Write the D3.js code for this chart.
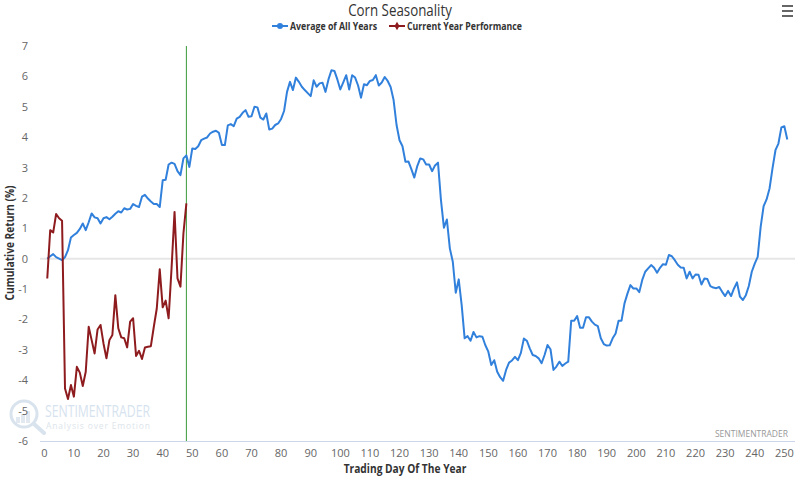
<!DOCTYPE html>
<html>
<head>
<meta charset="utf-8">
<script src="https://cdn.jsdelivr.net/npm/d3@7"></script>
<style>
  body { margin: 0; background: #fff; }
  svg { font-family: "Open Sans", "Noto Sans", sans-serif; }
</style>
</head>
<body>
<svg id="chart" width="799" height="479"></svg>
<script>
// cumulative return (%) by trading day, day 1 onwards
var avgAllYears = [
  0.0, 0.08, 0.15, 0.05, 0.0, -0.05, 0.05, 0.28, 0.7, 0.78,
  0.85, 0.98, 1.16, 0.94, 1.2, 1.49, 1.36, 1.33, 1.16, 1.33,
  1.37, 1.3, 1.38, 1.48, 1.56, 1.52, 1.66, 1.62, 1.64, 1.8,
  1.74, 1.7, 2.04, 2.1, 1.98, 1.88, 1.8, 1.8, 1.7, 2.58,
  2.6, 3.1, 3.16, 3.12, 2.88, 2.75, 3.3, 3.4, 3.02, 3.63,
  3.61, 3.7, 3.9, 3.95, 3.99, 4.12, 4.18, 4.21, 4.14, 3.74,
  3.74, 4.39, 4.43, 4.36, 4.61, 4.67, 4.8, 4.89, 4.67, 4.69,
  5.0, 4.98, 4.64, 4.58, 4.78, 4.25, 4.28, 4.4, 4.45, 4.6,
  4.86, 5.49, 5.82, 5.55, 5.96, 5.82, 5.66, 5.55, 5.45, 5.35,
  5.87, 5.66, 5.77, 5.79, 5.49, 5.9, 6.2, 6.18, 5.9, 5.57,
  5.8, 6.04, 5.57, 6.04, 5.96, 5.7, 5.3, 5.74, 5.71, 5.85,
  5.88, 6.04, 5.7, 5.8, 5.98, 5.85, 5.65, 5.22, 4.4, 3.9,
  3.7, 3.19, 3.2, 2.95, 2.67, 3.05, 3.3, 3.27, 3.1, 3.1,
  2.88, 3.07, 3.16, 1.93, 1.02, 1.29, 0.34, -0.1, -1.12, -0.68,
  -1.53, -2.62, -2.55, -2.7, -2.41, -2.59, -2.55, -2.57, -2.85, -3.06,
  -3.5, -3.34, -3.72, -3.9, -4.02, -3.66, -3.42, -3.35, -3.23, -3.34,
  -3.1, -2.63, -2.7, -2.95, -3.17, -3.2, -3.28, -3.44, -3.17, -2.84,
  -2.98, -3.66, -3.55, -3.39, -3.53, -3.45, -3.39, -2.04, -2.04, -1.89,
  -2.27, -2.27, -1.93, -1.93, -2.07, -2.17, -2.22, -2.62, -2.81, -2.86,
  -2.85, -2.62, -2.46, -2.04, -2.04, -1.47, -1.15, -0.87, -0.98, -0.98,
  -1.1, -0.7, -0.43, -0.32, -0.21, -0.3, -0.46, -0.3, -0.18, -0.2,
  0.12, 0.08, -0.05, -0.2, -0.29, -0.3, -0.65, -0.43, -0.65, -0.52,
  -0.53, -0.85, -0.65, -0.67, -0.9, -0.95, -0.97, -0.93, -1.09, -1.23,
  -1.06, -1.23, -0.98, -0.78, -1.25, -1.36, -1.2, -0.9, -0.43, -0.16,
  0.06, 1.05, 1.73, 1.95, 2.31, 2.97, 3.57, 3.79, 4.32, 4.36,
  3.92
];

var currentYear = [
  -0.65, 0.94, 0.86, 1.47, 1.33, 1.25, -4.27, -4.62, -4.16, -4.54,
  -3.56, -3.75, -4.19, -3.72, -2.24, -2.68, -3.12, -2.33, -2.18, -2.79,
  -3.28, -2.68, -2.51, -1.2, -2.29, -2.59, -2.62, -2.92, -2.07, -1.96,
  -3.2, -3.03, -3.3, -2.92, -2.9, -2.88, -2.24, -1.64, -0.35, -1.6,
  -1.38, -1.96, -0.3, 1.54, -0.65, -0.92, 0.83, 1.82
];

var todayMarker = 48;
var xTicks = [0, 10, 20, 30, 40, 50, 60, 70, 80, 90, 100, 110, 120, 130, 140, 150, 160, 170, 180, 190, 200, 210, 220, 230, 240, 250];
var yTicks = [-6, -5, -4, -3, -2, -1, 0, 1, 2, 3, 4, 5, 6, 7];

var seriesNames = ["Average of All Years", "Current Year Performance"];
var seriesColors = ["#3181dc", "#8e1c1f"];

var svg = d3.select("#chart");

var plot = { left: 40, right: 795, top: 46, bottom: 441 };

var x = d3.scaleLinear().domain([-1.45, 253.6]).range([plot.left, plot.right]);
var y = d3.scaleLinear().domain([-6, 7]).range([plot.bottom, plot.top]);

// watermark
var wm = svg.append("g").attr("opacity", 0.55);
wm.append("circle").attr("cx", 24).attr("cy", 414).attr("r", 13)
    .attr("fill", "none").attr("stroke", "#b9cde0").attr("stroke-width", 3);
wm.append("line").attr("x1", 34).attr("y1", 424).attr("x2", 44).attr("y2", 433)
    .attr("stroke", "#b9cde0").attr("stroke-width", 4).attr("stroke-linecap", "round");
[[16, 6], [21, 9], [26, 12]].forEach(function(b) {
    wm.append("rect").attr("x", b[0]).attr("y", 423 - b[1]).attr("width", 4).attr("height", b[1])
        .attr("fill", "#c9d7e4");
});
wm.append("text").attr("x", 45).attr("y", 417).attr("font-size", 16)
    .attr("textLength", 105).attr("lengthAdjust", "spacingAndGlyphs")
    .attr("fill", "#b5cce2").text("SENTIMENTRADER");
wm.append("text").attr("x", 46).attr("y", 429).attr("font-size", 8.5)
    .attr("textLength", 104).attr("lengthAdjust", "spacing")
    .attr("fill", "#c2cfdb").text("Analysis over Emotion");

// zero line
svg.append("line")
    .attr("x1", plot.left).attr("x2", plot.right)
    .attr("y1", y(0)).attr("y2", y(0))
    .attr("stroke", "#e6e6e6").attr("stroke-width", 2);

// x axis line
svg.append("line")
    .attr("x1", plot.left).attr("x2", plot.right)
    .attr("y1", plot.bottom + 0.5).attr("y2", plot.bottom + 0.5)
    .attr("stroke", "#ccd6eb").attr("stroke-width", 1);

// tick labels
svg.append("g").selectAll("text").data(xTicks).enter().append("text")
    .attr("x", function(d) { return x(d); })
    .attr("y", 457)
    .attr("text-anchor", "middle")
    .attr("font-size", 11)
    .attr("fill", "#666")
    .text(function(d) { return d; });

svg.append("g").selectAll("text").data(yTicks).enter().append("text")
    .attr("x", 28)
    .attr("y", function(d) { return y(d) + 4; })
    .attr("text-anchor", "end")
    .attr("font-size", 11)
    .attr("fill", "#666")
    .text(function(d) { return d; });

// today marker
svg.append("line")
    .attr("x1", x(todayMarker)).attr("x2", x(todayMarker))
    .attr("y1", plot.top).attr("y2", plot.bottom)
    .attr("stroke", "#3a9a3a").attr("stroke-width", 1);

var line = d3.line()
    .x(function(d, i) { return x(i + 1); })
    .y(function(d) { return y(d); });

svg.append("path").datum(avgAllYears)
    .attr("d", line)
    .attr("fill", "none")
    .attr("stroke", seriesColors[0])
    .attr("stroke-width", 2)
    .attr("stroke-linejoin", "round");

svg.append("path").datum(currentYear)
    .attr("d", line)
    .attr("fill", "none")
    .attr("stroke", seriesColors[1])
    .attr("stroke-width", 2)
    .attr("stroke-linejoin", "round");

// title
svg.append("text")
    .attr("text-anchor", "middle")
    .attr("font-size", 15.5)
    .attr("fill", "#333")
    .attr("transform", "translate(400,16) scale(0.86,1)")
    .text("Corn Seasonality");

// legend
var legendX = [280, 397];
var legendW = [87, 115];
var legend = svg.append("g").selectAll("g").data(seriesNames).enter().append("g")
    .attr("transform", function(d, i) { return "translate(" + legendX[i] + ",26)"; });
legend.append("line").attr("x1", -8).attr("x2", 8).attr("y1", 0).attr("y2", 0)
    .attr("stroke", function(d, i) { return seriesColors[i]; }).attr("stroke-width", 2);
legend.append("path")
    .attr("d", function(d, i) { return i === 0 ? d3.symbol().type(d3.symbolCircle).size(28)() : d3.symbol().type(d3.symbolDiamond).size(22)(); })
    .attr("fill", function(d, i) { return seriesColors[i]; });
legend.append("text")
    .attr("x", 10).attr("y", 4)
    .attr("font-size", 10.5)
    .attr("font-weight", "bold")
    .attr("fill", "#333")
    .attr("textLength", function(d, i) { return legendW[i]; })
    .attr("lengthAdjust", "spacingAndGlyphs")
    .text(function(d) { return d; });

// axis titles
svg.append("text")
    .attr("text-anchor", "middle")
    .attr("font-size", 12)
    .attr("font-weight", "bold")
    .attr("fill", "#333")
    .attr("transform", "translate(405,473) scale(0.85,1)")
    .text("Trading Day Of The Year");

svg.append("text")
    .attr("text-anchor", "middle")
    .attr("font-size", 12)
    .attr("font-weight", "bold")
    .attr("fill", "#333")
    .attr("transform", "translate(14,243) rotate(-90) scale(0.85,1)")
    .text("Cumulative Return (%)");

// credits
svg.append("text")
    .attr("x", 788).attr("y", 437)
    .attr("text-anchor", "end")
    .attr("font-size", 8.5)
    .attr("fill", "#999")
    .text("SENTIMENTRADER");

// menu button
[5, 10, 15].forEach(function(yy) {
    svg.append("rect").attr("x", 782).attr("y", yy).attr("width", 11).attr("height", 2).attr("fill", "#666");
});
</script>
</body>
</html>
